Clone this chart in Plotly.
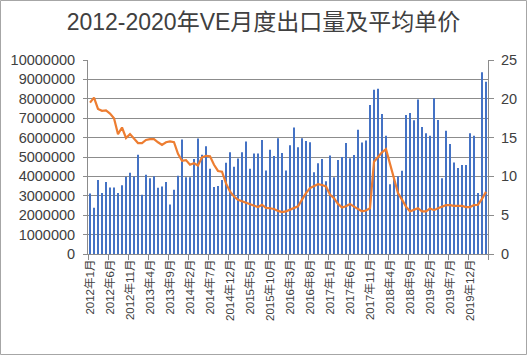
import plotly.graph_objects as go

title_text = "2012-2020年VE月度出口量及平均单价"

# monthly categories 2012-01 .. 2020-04
months = [f"{y}年{m}月" for y in range(2012, 2021) for m in range(1, 13)][:100]

# export volume (left axis)
volume = [
    3120000, 2380000, 3820000, 3150000, 3710000, 3430000, 3430000, 3150000, 3550000, 3980000,
    4190000, 3990000, 5110000, 3050000, 4080000, 3910000, 4010000, 3420000, 3480000, 3710000,
    2550000, 3310000, 4030000, 5900000, 3950000, 3950000, 4900000, 5960000, 5120000, 5550000,
    4400000, 3450000, 3500000, 3820000, 4700000, 5250000, 4500000, 4920000, 5250000, 5800000,
    4400000, 5180000, 5180000, 5880000, 4300000, 5370000, 5050000, 5970000, 5200000, 4300000,
    5600000, 6520000, 5500000, 5970000, 5830000, 5760000, 4220000, 4680000, 4900000, 3750000,
    5080000, 3950000, 4850000, 5000000, 5720000, 4940000, 5100000, 6400000, 5750000, 5850000,
    7680000, 8470000, 8520000, 7220000, 6090000, 3600000, 3900000, 4000000, 4290000, 7170000,
    7270000, 6900000, 7970000, 6550000, 6220000, 6090000, 8030000, 6910000, 3900000, 6350000,
    5670000, 4720000, 4430000, 4590000, 4590000, 6220000, 6090000, 3150000, 9370000, 8880000,
]

# average unit price (right axis)
price = [
    19.5, 20.15, 18.7, 18.45, 18.5, 18.1, 17.5, 15.45, 16.3, 14.95,
    15.45, 14.85, 14.3, 14.3, 14.7, 14.8, 14.8, 14.4, 14.05, 14.4,
    14.5, 14.4, 12.9, 12.0, 12.1, 11.5, 11.7, 11.4, 12.45, 12.65,
    12.6, 11.5, 10.7, 10.6, 9.1, 8.05, 7.4, 7.0, 6.8, 6.7,
    6.45, 6.2, 6.05, 6.35, 5.95, 5.9, 5.8, 5.55, 5.4, 5.5,
    5.7, 5.9, 6.15, 7.0, 7.85, 8.5, 8.7, 9.0, 8.9, 8.7,
    7.65, 7.2, 6.45, 6.0, 6.15, 6.45, 6.1, 5.8, 5.5, 5.6,
    5.9, 11.9, 12.55, 13.1, 13.5, 11.7, 9.8, 7.85, 7.0, 6.1,
    5.5, 5.7, 5.9, 5.5, 5.5, 5.85, 5.65, 5.9, 6.05, 6.3,
    6.3, 6.2, 6.2, 6.2, 6.05, 6.05, 6.3, 6.35, 7.1, 8.0,
]

left_ticks = list(range(0, 10000001, 1000000))
right_ticks = [0, 5, 10, 15, 20, 25]

FONT = "Liberation Sans, Arial, Noto Sans CJK SC, sans-serif"
TXT = "#404040"
GRID = "#8C8C8C"

fig = go.Figure()
fig.add_trace(go.Bar(x=months, y=volume, marker=dict(color="#4472C4", line=dict(width=0)),
                     name="出口量", yaxis="y"))
fig.add_trace(go.Scatter(x=months, y=price, mode="lines", line=dict(color="#ED7D31", width=2.2),
                         name="平均单价", yaxis="y2"))

W, H = 527, 355
L, R, T, B = 88, 39, 60, 101
pw, ph = W - L - R, H - T - B

fig.update_layout(
    width=W, height=H,
    margin=dict(l=L, r=R, t=T, b=B),
    paper_bgcolor="white", plot_bgcolor="white",
    showlegend=False,
    bargap=0.5,
    font=dict(family=FONT, color=TXT),
    title=dict(text=title_text, x=0.5, xanchor="center", y=1 - 22 / H, yanchor="middle",
               font=dict(size=23, color=TXT, family=FONT)),
    xaxis=dict(type="category", tickmode="linear", tick0=0, dtick=5, tickson="boundaries",
               ticks="outside", ticklen=5, tickcolor=GRID, tickangle=-90,
               tickfont=dict(size=11.5, color=TXT), showgrid=False, showline=True,
               linecolor=GRID, linewidth=1, range=[-0.5, 99.5], automargin=False),
    yaxis=dict(range=[0, 10000000], tickmode="array", tickvals=left_ticks,
               ticktext=[str(v) for v in left_ticks], showgrid=True, gridcolor=GRID,
               gridwidth=1, showline=True, linecolor=GRID, ticks="outside", ticklen=4,
               tickcolor=GRID, tickfont=dict(size=14.5, color=TXT), zeroline=False,
               automargin=False, ticklabelstandoff=5),
    yaxis2=dict(range=[0, 25], tickmode="array", tickvals=right_ticks, overlaying="y",
                side="right", showgrid=False, showline=True, linecolor=GRID, ticks="outside",
                ticklen=5, tickcolor=GRID, tickfont=dict(size=14.5, color=TXT), zeroline=False,
                automargin=False, ticklabelstandoff=4),
    shapes=[dict(type="rect", xref="paper", yref="paper",
                 x0=(-L + 0.5) / pw, x1=1 + (R - 0.5) / pw,
                 y0=(-B + 0.5) / ph, y1=1 + (T - 0.5) / ph,
                 line=dict(color="#A6A6A6", width=1), layer="below")],
)

fig.write_html("out.html",
               config={"displayModeBar": False},
               post_script="document.body.style.margin='0';document.body.style.overflow='hidden';")
